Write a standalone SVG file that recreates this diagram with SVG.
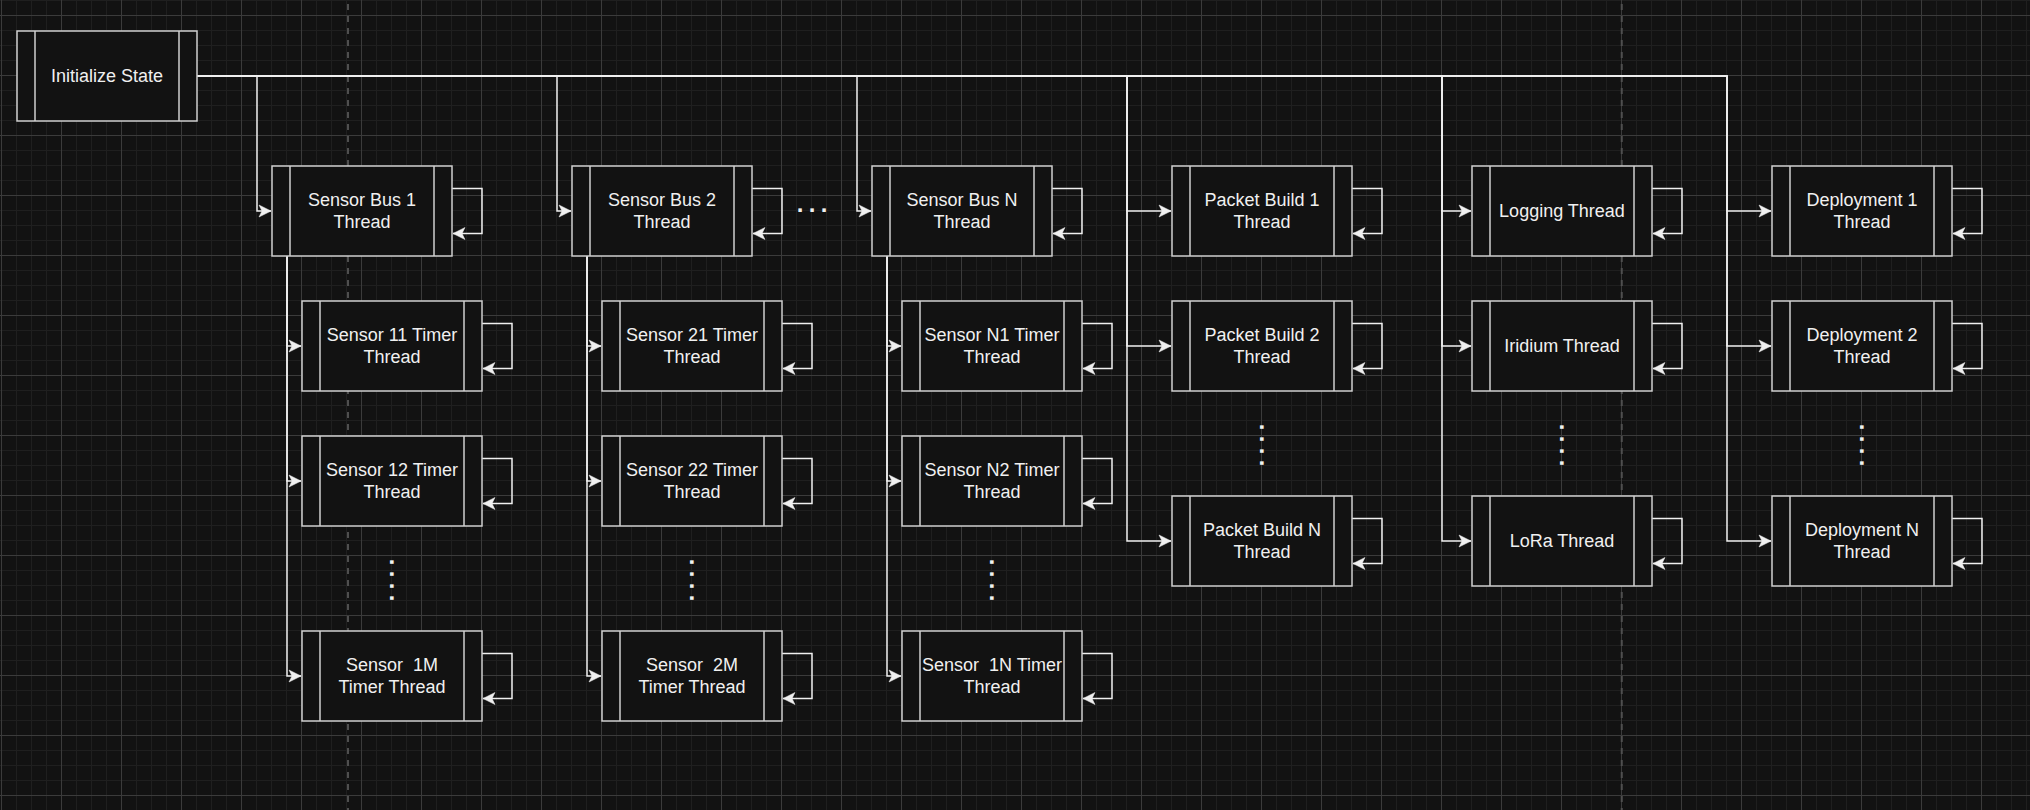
<svg xmlns="http://www.w3.org/2000/svg" width="2030" height="810" viewBox="0 0 2030 810">
<style>
.box{fill:#121212;stroke:#cfcfcf;stroke-width:1.5}
.bar{fill:none;stroke:#cfcfcf;stroke-width:1.5}
.lbl{font-family:"Liberation Sans",Arial,Helvetica,sans-serif;font-size:18px;fill:#f0f0f0;text-anchor:middle;white-space:pre}
.edge{fill:none;stroke:#f0f0f0;stroke-width:1.5;marker-end:url(#arr)}
.page{stroke:#4f4f4f;stroke-width:2;stroke-dasharray:6 6;stroke-dashoffset:8}
.dots{font-family:"Liberation Sans",Arial,sans-serif;font-weight:bold;font-size:24px;fill:#f0f0f0;letter-spacing:5.33px}
</style>
<defs>
<pattern id="grid" width="60" height="60" patternUnits="userSpaceOnUse" x="1" y="15">
<path d="M15.5,0V60M30.5,0V60M45.5,0V60M0,15.5H60M0,30.5H60M0,45.5H60" stroke="#1f1f1f" stroke-width="1" fill="none"/>
<path d="M0.5,0V60M0,0.5H60" stroke="#3b3b3b" stroke-width="1" fill="none"/>
</pattern>
<marker id="arr" viewBox="-13 -7 14 14" markerWidth="14" markerHeight="14" refX="0" refY="0" orient="auto" markerUnits="userSpaceOnUse" overflow="visible">
<path d="M0,0L-12,-6L-9,0L-12,6Z" fill="#f0f0f0" stroke="#f0f0f0" stroke-width="0.5"/>
</marker>
</defs>
<rect x="0" y="0" width="2030" height="810" fill="#121212"/>
<rect x="0" y="0" width="2030" height="810" fill="url(#grid)"/>
<line class="page" x1="348" y1="0" x2="348" y2="810"/>
<line class="page" x1="1621.75" y1="0" x2="1621.75" y2="810"/>

<g id="connectors">
<path class="edge" d="M197,76H257V211H271"/>
<path class="edge" d="M197,76H557V211H571"/>
<path class="edge" d="M197,76H857V211H871"/>
<path class="edge" d="M197,76H1127V211H1171"/>
<path class="edge" d="M197,76H1127V346H1171"/>
<path class="edge" d="M197,76H1127V541H1171"/>
<path class="edge" d="M197,76H1442V211H1471"/>
<path class="edge" d="M197,76H1442V346H1471"/>
<path class="edge" d="M197,76H1442V541H1471"/>
<path class="edge" d="M197,76H1727V211H1771"/>
<path class="edge" d="M197,76H1727V346H1771"/>
<path class="edge" d="M197,76H1727V541H1771"/>
<path class="edge" d="M287,256V346H301"/>
<path class="edge" d="M287,256V481H301"/>
<path class="edge" d="M287,256V676H301"/>
<path class="edge" d="M587,256V346H601"/>
<path class="edge" d="M587,256V481H601"/>
<path class="edge" d="M587,256V676H601"/>
<path class="edge" d="M887,256V346H901"/>
<path class="edge" d="M887,256V481H901"/>
<path class="edge" d="M887,256V676H901"/>
<path class="edge" d="M452,188.5H482V233.5H453"/>
<path class="edge" d="M482,323.5H512V368.5H483"/>
<path class="edge" d="M482,458.5H512V503.5H483"/>
<path class="edge" d="M482,653.5H512V698.5H483"/>
<path class="edge" d="M752,188.5H782V233.5H753"/>
<path class="edge" d="M782,323.5H812V368.5H783"/>
<path class="edge" d="M782,458.5H812V503.5H783"/>
<path class="edge" d="M782,653.5H812V698.5H783"/>
<path class="edge" d="M1052,188.5H1082V233.5H1053"/>
<path class="edge" d="M1082,323.5H1112V368.5H1083"/>
<path class="edge" d="M1082,458.5H1112V503.5H1083"/>
<path class="edge" d="M1082,653.5H1112V698.5H1083"/>
<path class="edge" d="M1352,188.5H1382V233.5H1353"/>
<path class="edge" d="M1352,323.5H1382V368.5H1353"/>
<path class="edge" d="M1352,518.5H1382V563.5H1353"/>
<path class="edge" d="M1652,188.5H1682V233.5H1653"/>
<path class="edge" d="M1652,323.5H1682V368.5H1653"/>
<path class="edge" d="M1652,518.5H1682V563.5H1653"/>
<path class="edge" d="M1952,188.5H1982V233.5H1953"/>
<path class="edge" d="M1952,323.5H1982V368.5H1953"/>
<path class="edge" d="M1952,518.5H1982V563.5H1953"/>
</g>

<g id="init"><rect class="box" x="17" y="31" width="180" height="90"/><path class="bar" d="M35,31V121M179,31V121"/><text class="lbl" x="107" y="82">Initialize State</text></g>

<g id="bus1"><rect class="box" x="272" y="166" width="180" height="90"/><path class="bar" d="M290,166V256M434,166V256"/><text class="lbl" x="362" y="206.2">Sensor Bus 1</text><text class="lbl" x="362" y="227.8">Thread</text></g>
<g id="t11"><rect class="box" x="302" y="301" width="180" height="90"/><path class="bar" d="M320,301V391M464,301V391"/><text class="lbl" x="392" y="341.2">Sensor 11 Timer</text><text class="lbl" x="392" y="362.8">Thread</text></g>
<g id="t12"><rect class="box" x="302" y="436" width="180" height="90"/><path class="bar" d="M320,436V526M464,436V526"/><text class="lbl" x="392" y="476.2">Sensor 12 Timer</text><text class="lbl" x="392" y="497.8">Thread</text></g>
<g id="t1M"><rect class="box" x="302" y="631" width="180" height="90"/><path class="bar" d="M320,631V721M464,631V721"/><text class="lbl" x="392" y="671.2" xml:space="preserve">Sensor  1M</text><text class="lbl" x="392" y="692.8">Timer Thread</text></g>

<g id="bus2"><rect class="box" x="572" y="166" width="180" height="90"/><path class="bar" d="M590,166V256M734,166V256"/><text class="lbl" x="662" y="206.2">Sensor Bus 2</text><text class="lbl" x="662" y="227.8">Thread</text></g>
<g id="t21"><rect class="box" x="602" y="301" width="180" height="90"/><path class="bar" d="M620,301V391M764,301V391"/><text class="lbl" x="692" y="341.2">Sensor 21 Timer</text><text class="lbl" x="692" y="362.8">Thread</text></g>
<g id="t22"><rect class="box" x="602" y="436" width="180" height="90"/><path class="bar" d="M620,436V526M764,436V526"/><text class="lbl" x="692" y="476.2">Sensor 22 Timer</text><text class="lbl" x="692" y="497.8">Thread</text></g>
<g id="t2M"><rect class="box" x="602" y="631" width="180" height="90"/><path class="bar" d="M620,631V721M764,631V721"/><text class="lbl" x="692" y="671.2" xml:space="preserve">Sensor  2M</text><text class="lbl" x="692" y="692.8">Timer Thread</text></g>

<g id="busN"><rect class="box" x="872" y="166" width="180" height="90"/><path class="bar" d="M890,166V256M1034,166V256"/><text class="lbl" x="962" y="206.2">Sensor Bus N</text><text class="lbl" x="962" y="227.8">Thread</text></g>
<g id="tN1"><rect class="box" x="902" y="301" width="180" height="90"/><path class="bar" d="M920,301V391M1064,301V391"/><text class="lbl" x="992" y="341.2">Sensor N1 Timer</text><text class="lbl" x="992" y="362.8">Thread</text></g>
<g id="tN2"><rect class="box" x="902" y="436" width="180" height="90"/><path class="bar" d="M920,436V526M1064,436V526"/><text class="lbl" x="992" y="476.2">Sensor N2 Timer</text><text class="lbl" x="992" y="497.8">Thread</text></g>
<g id="t1N"><rect class="box" x="902" y="631" width="180" height="90"/><path class="bar" d="M920,631V721M1064,631V721"/><text class="lbl" x="992" y="671.2" xml:space="preserve">Sensor  1N Timer</text><text class="lbl" x="992" y="692.8">Thread</text></g>

<g id="pb1"><rect class="box" x="1172" y="166" width="180" height="90"/><path class="bar" d="M1190,166V256M1334,166V256"/><text class="lbl" x="1262" y="206.2">Packet Build 1</text><text class="lbl" x="1262" y="227.8">Thread</text></g>
<g id="pb2"><rect class="box" x="1172" y="301" width="180" height="90"/><path class="bar" d="M1190,301V391M1334,301V391"/><text class="lbl" x="1262" y="341.2">Packet Build 2</text><text class="lbl" x="1262" y="362.8">Thread</text></g>
<g id="pbN"><rect class="box" x="1172" y="496" width="180" height="90"/><path class="bar" d="M1190,496V586M1334,496V586"/><text class="lbl" x="1262" y="536.2">Packet Build N</text><text class="lbl" x="1262" y="557.8">Thread</text></g>

<g id="logging"><rect class="box" x="1472" y="166" width="180" height="90"/><path class="bar" d="M1490,166V256M1634,166V256"/><text class="lbl" x="1562" y="217">Logging Thread</text></g>
<g id="iridium"><rect class="box" x="1472" y="301" width="180" height="90"/><path class="bar" d="M1490,301V391M1634,301V391"/><text class="lbl" x="1562" y="352">Iridium Thread</text></g>
<g id="lora"><rect class="box" x="1472" y="496" width="180" height="90"/><path class="bar" d="M1490,496V586M1634,496V586"/><text class="lbl" x="1562" y="547">LoRa Thread</text></g>

<g id="dep1"><rect class="box" x="1772" y="166" width="180" height="90"/><path class="bar" d="M1790,166V256M1934,166V256"/><text class="lbl" x="1862" y="206.2">Deployment 1</text><text class="lbl" x="1862" y="227.8">Thread</text></g>
<g id="dep2"><rect class="box" x="1772" y="301" width="180" height="90"/><path class="bar" d="M1790,301V391M1934,301V391"/><text class="lbl" x="1862" y="341.2">Deployment 2</text><text class="lbl" x="1862" y="362.8">Thread</text></g>
<g id="depN"><rect class="box" x="1772" y="496" width="180" height="90"/><path class="bar" d="M1790,496V586M1934,496V586"/><text class="lbl" x="1862" y="536.2">Deployment N</text><text class="lbl" x="1862" y="557.8">Thread</text></g>

<g id="ellipses">
<text class="dots" x="796.7" y="211.7">...</text>
<text class="dots" transform="translate(392,562) rotate(90)" x="-3.3" y="1.65">....</text>
<text class="dots" transform="translate(692,562) rotate(90)" x="-3.3" y="1.65">....</text>
<text class="dots" transform="translate(992,562) rotate(90)" x="-3.3" y="1.65">....</text>
<text class="dots" transform="translate(1262,427) rotate(90)" x="-3.3" y="1.65">....</text>
<text class="dots" transform="translate(1562,427) rotate(90)" x="-3.3" y="1.65">....</text>
<text class="dots" transform="translate(1862,427) rotate(90)" x="-3.3" y="1.65">....</text>
</g>
</svg>
